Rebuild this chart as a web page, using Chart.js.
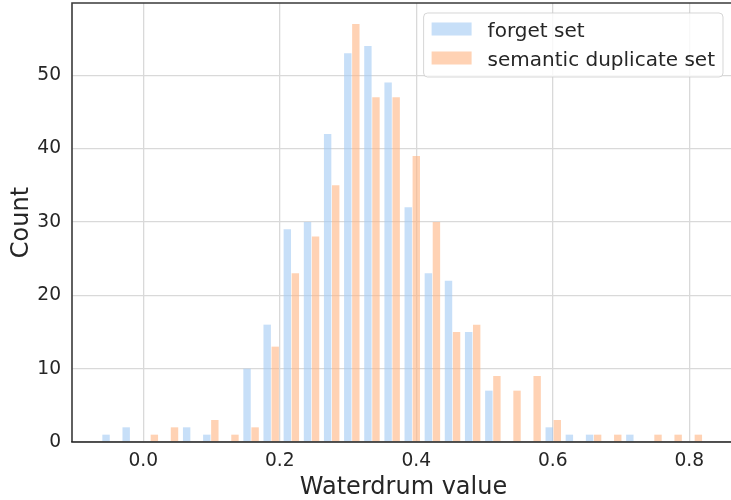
<!DOCTYPE html>
<html>
<head>
<meta charset="utf-8">
<title>Waterdrum value histogram</title>
<script src="https://cdn.jsdelivr.net/npm/chart.js@4/dist/chart.umd.min.js"></script>
<style>
  html, body { margin: 0; padding: 0; background: #fff; overflow: hidden; }
  #histChart { display: block; }
</style>
</head>
<body>
<canvas id="histChart" width="735" height="500"></canvas>
<script>
// bin centres (30 equal bins) and counts per set
const binCenters = [
  -0.0487, -0.0192, 0.0103, 0.0398, 0.0694, 0.0989, 0.1284, 0.1579, 0.1874, 0.2169,
  0.2465, 0.2760, 0.3055, 0.3350, 0.3646, 0.3941, 0.4236, 0.4531, 0.4826, 0.5122,
  0.5417, 0.5712, 0.6007, 0.6302, 0.6598, 0.6893, 0.7188, 0.7483, 0.7778, 0.8074
];
const forgetCounts = [
  1, 2, 0, 0, 2, 1, 0, 10, 16, 29,
  30, 42, 53, 54, 49, 32, 23, 22, 15, 7,
  0, 0, 2, 1, 1, 0, 1, 0, 0, 0
];
const duplicateCounts = [
  0, 0, 1, 2, 0, 3, 1, 2, 13, 23,
  28, 35, 57, 47, 47, 39, 30, 15, 16, 9,
  7, 9, 3, 0, 1, 1, 0, 1, 1, 1
];
const seriesNames = ['forget set', 'semantic duplicate set'];
const xTicks = [0.0, 0.2, 0.4, 0.6, 0.8];
const yTicks = [0, 10, 20, 30, 40, 50];
const xLimits = [-0.1045, 0.867];
const yLimits = [0, 59.85];

const textColor = '#262626';
const barColors = ['rgba(161, 201, 244, 0.6)', 'rgba(255, 180, 130, 0.6)'];

Chart.defaults.font.family = "'DejaVu Sans', sans-serif";
Chart.defaults.color = textColor;

// spines and the boxed legend in the upper right corner
const frameAndLegend = {
  id: 'frameAndLegend',
  afterDatasetsDraw(chart) {
    const { ctx, chartArea: a } = chart;
    ctx.save();
    ctx.strokeStyle = '#3a3a3a';
    ctx.lineWidth = 1.6;
    ctx.beginPath();
    ctx.moveTo(a.left, a.bottom);
    ctx.lineTo(a.left, a.top);
    ctx.lineTo(a.right, a.top);
    ctx.stroke();
    ctx.strokeStyle = '#1e1e1e';
    ctx.beginPath();
    ctx.moveTo(a.left - 0.8, a.bottom);
    ctx.lineTo(a.right, a.bottom);
    ctx.stroke();

    ctx.font = "20px 'DejaVu Sans'";
    const textW = Math.max(...chart.data.datasets.map(d => ctx.measureText(d.label).width));
    const w = 8 + 40 + 16 + textW + 8;
    const h = 64;
    const x0 = a.right - 12 - w;
    const y0 = a.top + 10;
    ctx.beginPath();
    ctx.roundRect(x0, y0, w, h, 4);
    ctx.fillStyle = 'rgba(255, 255, 255, 0.8)';
    ctx.fill();
    ctx.strokeStyle = 'rgba(204, 204, 204, 0.8)';
    ctx.lineWidth = 1;
    ctx.stroke();

    chart.data.datasets.forEach((d, i) => {
      ctx.fillStyle = d.backgroundColor;
      ctx.fillRect(x0 + 8, y0 + 9.5 + i * 29, 40, 13);
      ctx.fillStyle = textColor;
      ctx.textBaseline = 'alphabetic';
      ctx.textAlign = 'left';
      ctx.fillText(d.label, x0 + 64, y0 + 23.5 + i * 29);
    });
    ctx.restore();
  }
};

new Chart(document.getElementById('histChart'), {
  type: 'bar',
  data: {
    datasets: [
      {
        label: seriesNames[0],
        data: binCenters.map((c, i) => ({ x: c, y: forgetCounts[i] })),
        backgroundColor: barColors[0],
        borderWidth: 0
      },
      {
        label: seriesNames[1],
        data: binCenters.map((c, i) => ({ x: c, y: duplicateCounts[i] })),
        backgroundColor: barColors[1],
        borderWidth: 0
      }
    ]
  },
  options: {
    responsive: false,
    animation: false,
    categoryPercentage: 0.8,
    barPercentage: 0.92,
    layout: { padding: { left: 0, top: 3, right: 0, bottom: 0 } },
    plugins: {
      legend: { display: false },
      tooltip: { enabled: false }
    },
    scales: {
      x: {
        type: 'linear',
        min: xLimits[0],
        max: xLimits[1],
        offset: false,
        afterBuildTicks: s => { s.ticks = xTicks.map(v => ({ value: v })); },
        afterFit: s => {
          s.height = 58;
          s.paddingLeft = 0;
          s.paddingRight = 0;
        },
        grid: { offset: false, color: '#d9d9d9', lineWidth: 1.3, drawTicks: false },
        border: { display: false },
        ticks: {
          padding: 8,
          maxRotation: 0,
          font: { size: 18.67 },
          callback: v => v.toFixed(1)
        },
        title: {
          display: true,
          text: 'Waterdrum value',
          font: { size: 24 },
          padding: { top: 0, bottom: -2 }
        }
      },
      y: {
        type: 'linear',
        min: yLimits[0],
        max: yLimits[1],
        afterBuildTicks: s => { s.ticks = yTicks.map(v => ({ value: v })); },
        afterFit: s => {
          s.width = 72;
          s.paddingTop = 0;
          s.paddingBottom = 0;
        },
        grid: { color: '#d9d9d9', lineWidth: 1.3, drawTicks: false },
        border: { display: false },
        ticks: {
          padding: 11,
          font: { size: 18.67 },
          callback: v => String(v)
        },
        title: {
          display: true,
          text: 'Count',
          font: { size: 24 },
          padding: { top: 7.5, bottom: 0 }
        }
      }
    }
  },
  plugins: [frameAndLegend]
});
</script>
</body>
</html>
